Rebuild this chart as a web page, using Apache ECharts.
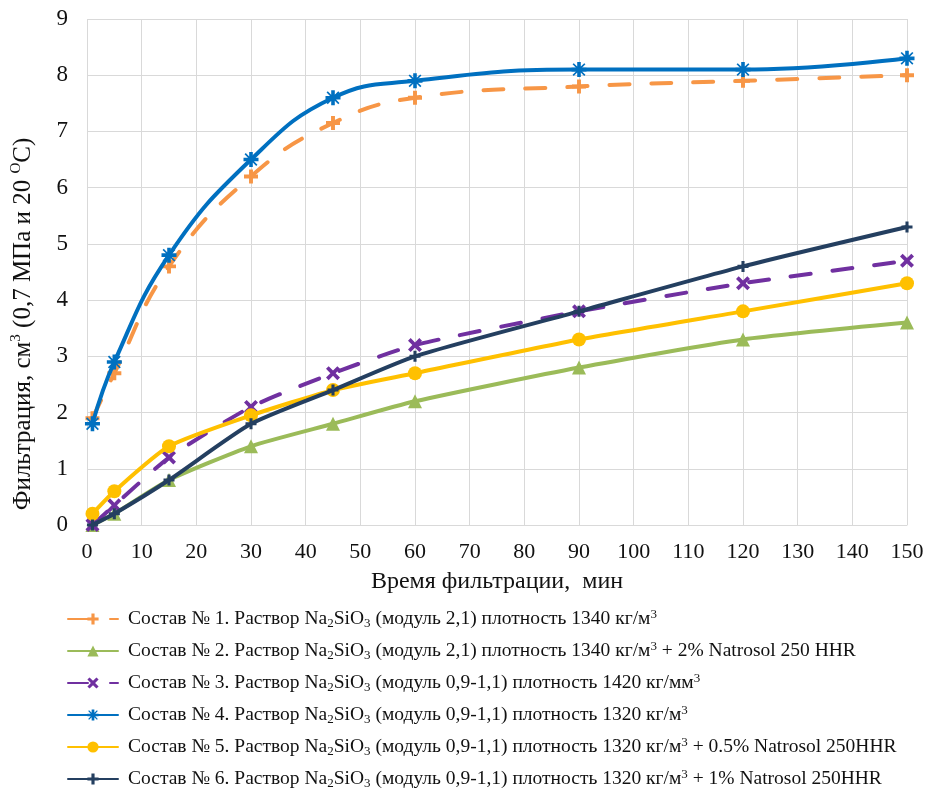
<!DOCTYPE html>
<html>
<head>
<meta charset="utf-8">
<script src="https://cdn.jsdelivr.net/npm/echarts@6/dist/echarts.min.js"></script>
<style>
html,body{margin:0;padding:0;background:#fff;}
#chart{width:929px;height:789px;}
</style>
</head>
<body>
<div id="chart"></div>
<script>
// Time, min
var times = [1, 5, 15, 30, 45, 60, 90, 120, 150];
// Filtration values, cm3
var sostav1 = [1.9, 2.7, 4.6, 6.2, 7.15, 7.6, 7.8, 7.9, 8.0];
var sostav2 = [0.0, 0.2, 0.8, 1.4, 1.8, 2.2, 2.8, 3.3, 3.6];
var sostav3 = [0.0, 0.35, 1.2, 2.1, 2.7, 3.2, 3.8, 4.3, 4.7];
var sostav4 = [1.8, 2.9, 4.8, 6.5, 7.6, 7.9, 8.1, 8.1, 8.3];
var sostav5 = [0.2, 0.6, 1.4, 1.95, 2.4, 2.7, 3.3, 3.8, 4.3];
var sostav6 = [0.0, 0.2, 0.8, 1.8, 2.4, 3.0, 3.8, 4.6, 5.3];

var xTicks = [0, 10, 20, 30, 40, 50, 60, 70, 80, 90, 100, 110, 120, 130, 140, 150];
var yTicks = [0, 1, 2, 3, 4, 5, 6, 7, 8, 9];

var seriesNames = [
  'Состав № 1. Раствор Na{sub|2}SiO{sub|3} (модуль 2,1) плотность 1340 кг/м{sup|3}',
  'Состав № 2. Раствор Na{sub|2}SiO{sub|3} (модуль 2,1) плотность 1340 кг/м{sup|3} + 2% Natrosol 250 HHR',
  'Состав № 3. Раствор Na{sub|2}SiO{sub|3} (модуль 0,9-1,1) плотность 1420 кг/мм{sup|3}',
  'Состав № 4. Раствор Na{sub|2}SiO{sub|3} (модуль 0,9-1,1) плотность 1320 кг/м{sup|3}',
  'Состав № 5. Раствор Na{sub|2}SiO{sub|3} (модуль 0,9-1,1) плотность 1320 кг/м{sup|3} + 0.5% Natrosol 250HHR',
  'Состав № 6. Раствор Na{sub|2}SiO{sub|3} (модуль 0,9-1,1) плотность 1320 кг/м{sup|3} + 1% Natrosol 250HHR'
];

function pairs(vals){ return times.map(function(t,i){ return [t, vals[i]]; }); }

var plusPath = 'path://M-1.4,-5H1.4V-1.4H5V1.4H1.4V5H-1.4V1.4H-5V-1.4H-1.4Z';
var xPath = 'path://M-5,-3.1L-3.1,-5L0,-1.9L3.1,-5L5,-3.1L1.9,0L5,3.1L3.1,5L0,1.9L-3.1,5L-5,3.1L-1.9,0Z';
var starPath = 'path://M-1.2,-5H1.2V-2L3.5,-4.3L4.3,-3.5L2,-1.2H5V1.2H2L4.3,3.5L3.5,4.3L1.2,2V5H-1.2V2L-3.5,4.3L-4.3,3.5L-2,1.2H-5V-1.2H-2L-4.3,-3.5L-3.5,-4.3L-1.2,-2Z';

var FONT = '"Liberation Serif", "Times New Roman", serif';

function mk(name, vals, color, type, symbol, size, smooth, z){
  return {
    name: name,
    type: 'line',
    data: pairs(vals),
    smooth: smooth,
    symbol: symbol,
    symbolSize: size,
    showSymbol: true,
    z: z,
    itemStyle: {color: color},
    lineStyle: {color: color, width: 4, type: type, cap: 'round'},
    emphasis: {disabled: true}
  };
}

var chart = echarts.init(document.getElementById('chart'), null, {renderer: 'canvas'});
chart.setOption({
  animation: false,
  backgroundColor: '#fff',
  grid: {left: 87, right: 22, top: 19, bottom: 264, containLabel: false, outerBoundsMode: 'none'},
  xAxis: {
    type: 'value', min: 0, max: 150, interval: 10,
    name: 'Время фильтрации,  мин',
    nameLocation: 'middle', nameGap: 45,
    nameTextStyle: {fontFamily: FONT, fontSize: 24, color: '#111'},
    axisLine: {show: true, lineStyle: {color: '#d9d9d9', width: 1}},
    axisTick: {show: false},
    axisLabel: {fontFamily: FONT, fontSize: 22, color: '#111', margin: 16,
      formatter: function(v){ return xTicks.indexOf(v) >= 0 ? String(v) : ''; }},
    splitLine: {show: true, lineStyle: {color: '#d9d9d9', width: 1}}
  },
  yAxis: {
    type: 'value', min: 0, max: 9, interval: 1,
    name: 'Фильтрация, см{s|3} (0,7 МПа и 20 {s|O}С)',
    nameLocation: 'middle', nameGap: 50, nameRotate: 90,
    nameTextStyle: {fontFamily: FONT, fontSize: 25, color: '#111', lineHeight: 28,
      padding: [0, 104, 0, 0],
      rich: {s: {fontFamily: FONT, fontSize: 15, lineHeight: 16, verticalAlign: 'top', color: '#111'}}},
    axisLine: {show: false},
    axisTick: {show: false},
    axisLabel: {fontFamily: FONT, fontSize: 23, color: '#111', margin: 19,
      formatter: function(v){ return yTicks.indexOf(v) >= 0 ? String(v) : ''; }},
    splitLine: {show: true, lineStyle: {color: '#d9d9d9', width: 1}}
  },
  legend: {
    orient: 'vertical',
    left: 67, top: 608, height: 200,
    padding: 0,
    itemWidth: 50, itemHeight: 14, itemGap: 10,
    textStyle: {fontFamily: FONT, fontSize: 19.5, color: '#111', lineHeight: 22, padding: [0, 0, 0, 5],
      rich: {
        sub: {fontFamily: FONT, fontSize: 13, lineHeight: 13, verticalAlign: 'bottom', color: '#111'},
        sup: {fontFamily: FONT, fontSize: 13, lineHeight: 13, verticalAlign: 'top', color: '#111'}
      }},
    data: seriesNames
  },
  series: [
    mk(seriesNames[0], sostav1, '#F79646', [20, 22], plusPath, 14, 0.45, 3),
    mk(seriesNames[1], sostav2, '#9BBB59', 'solid', 'triangle', 14, 0.2, 4),
    mk(seriesNames[2], sostav3, '#7030A0', [20, 22], xPath, 14, 0.2, 5),
    mk(seriesNames[3], sostav4, '#0070C0', 'solid', starPath, 15, 0.45, 6),
    mk(seriesNames[4], sostav5, '#FFC000', 'solid', 'circle', 14, 0.2, 7),
    mk(seriesNames[5], sostav6, '#243F60', 'solid', plusPath, 11, 0.2, 8)
  ]
});
</script>
</body>
</html>
